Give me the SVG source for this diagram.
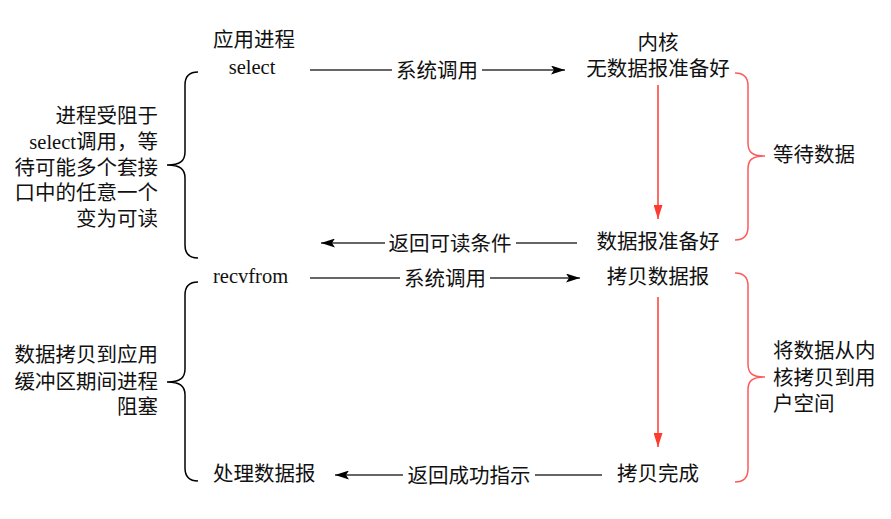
<svg xmlns="http://www.w3.org/2000/svg" width="891" height="519" viewBox="0 0 891 519">
<defs>
<marker id="ah" viewBox="0 0 14 9" refX="14" refY="4.5" markerWidth="14" markerHeight="9" markerUnits="userSpaceOnUse" orient="auto">
<path d="M0,0 L14,4.5 L0,9 L3,4.5 Z" fill="#000"/>
</marker>
<marker id="ahr" viewBox="0 0 9 14" refX="4.5" refY="14" markerWidth="9" markerHeight="14" markerUnits="userSpaceOnUse" orient="0">
<path d="M0,0 L9,0 L4.5,14 Z" fill="#FF3B30"/>
</marker>
<style>
.t{font-family:"Noto Sans CJK SC","Microsoft YaHei",sans-serif;font-size:20.5px;fill:#111}
.s{font-family:"Liberation Serif","Times New Roman",serif;font-size:20.5px;fill:#111}
.m{text-anchor:middle}.e{text-anchor:end}
.ln{stroke:#333;stroke-width:1.5;fill:none}
.rd{stroke:#FF3B30;stroke-width:1.5;fill:none}
.bk{stroke:#000;stroke-width:1.5;fill:none}
.rb{stroke:#FF5A5A;stroke-width:1.5;fill:none}
</style>
</defs>
<rect width="891" height="519" fill="#fff"/>
<g id="connectors">
<path class="ln" d="M310,70 H392"/>
<path class="ln" d="M482,70 H565" marker-end="url(#ah)"/>
<path class="ln" d="M577,243 H516"/>
<path class="ln" d="M385,243 H321" marker-end="url(#ah)"/>
<path class="ln" d="M310,278 H400"/>
<path class="ln" d="M490,278 H580" marker-end="url(#ah)"/>
<path class="ln" d="M602,475 H535"/>
<path class="ln" d="M403,475 H335" marker-end="url(#ah)"/>
<path class="rd" d="M658,85 V219" marker-end="url(#ahr)"/>
<path class="rd" d="M658,297 V447" marker-end="url(#ahr)"/>
</g>
<g id="labels">
<text class="t m" x="437" y="78">系统调用</text>
<text class="t m" x="450" y="251">返回可读条件</text>
<text class="t m" x="445" y="286">系统调用</text>
<text class="t m" x="469" y="483">返回成功指示</text>
</g>
<g id="app-title"><text class="t m" x="254" y="47">应用进程</text></g>
<g id="select"><text class="s m" x="252" y="74">select</text></g>
<g id="recvfrom"><text class="s" x="213" y="283">recvfrom</text></g>
<g id="process-data"><text class="t" x="213" y="481">处理数据报</text></g>
<g id="kernel-title"><text class="t m" x="658" y="50">内核</text></g>
<g id="no-data"><text class="t m" x="658" y="76">无数据报准备好</text></g>
<g id="data-ready"><text class="t m" x="658" y="249">数据报准备好</text></g>
<g id="copy-data"><text class="t m" x="658" y="284">拷贝数据报</text></g>
<g id="copy-done"><text class="t m" x="658" y="481">拷贝完成</text></g>
<g id="brace-left-top">
<path class="bk" d="M198,72 C189,72 185,76 185,85 L185,152 C185,161 180,165 167,165 C180,165 185,169 185,178 L185,245 C185,254 189,258 198,258"/>
<text class="t e" x="158" y="123">进程受阻于</text>
<text class="e" x="158" y="149"><tspan class="s">select</tspan><tspan class="t">调用，等</tspan></text>
<text class="t e" x="158" y="175">待可能多个套接</text>
<text class="t e" x="158" y="200">口中的任意一个</text>
<text class="t e" x="158" y="226">变为可读</text>
</g>
<g id="brace-left-bottom">
<path class="bk" d="M198,282 C189,282 185,286 185,295 L185,369 C185,378 180,382 167,382 C180,382 185,386 185,395 L185,468 C185,477 189,481 198,481"/>
<text class="t e" x="158" y="362">数据拷贝到应用</text>
<text class="t e" x="158" y="389">缓冲区期间进程</text>
<text class="t e" x="158" y="414">阻塞</text>
</g>
<g id="brace-right-top">
<path class="rb" d="M735,73 C744,73 748,77 748,86 L748,143 C748,152 752,156 765,156 C752,156 748,160 748,169 L748,227 C748,236 744,240 735,240"/>
<text class="t" x="773" y="162">等待数据</text>
</g>
<g id="brace-right-bottom">
<path class="rb" d="M735,273 C744,273 748,277 748,286 L748,364 C748,373 752,377 765,377 C752,377 748,381 748,390 L748,469 C748,478 744,482 735,482"/>
<text class="t" x="773" y="358">将数据从内</text>
<text class="t" x="773" y="385">核拷贝到用</text>
<text class="t" x="773" y="411">户空间</text>
</g>
</svg>
